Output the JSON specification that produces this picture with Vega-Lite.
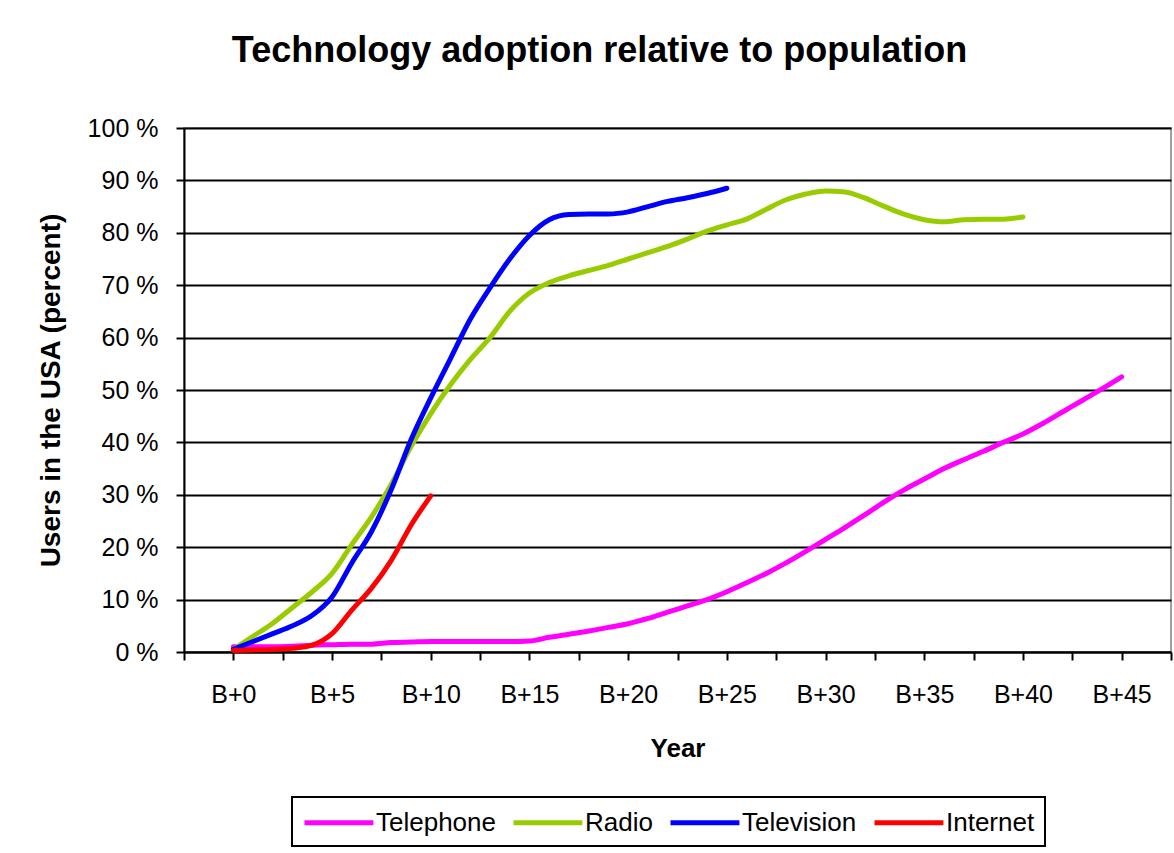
{
  "$schema": "https://vega.github.io/schema/vega-lite/v6.json",
  "width": 987,
  "height": 524,
  "autosize": {"type": "none"},
  "padding": {"left": 184, "top": 128, "right": 3, "bottom": 201},
  "background": "white",
  "title": {
    "text": "Technology adoption relative to population",
    "font": "Liberation Sans",
    "fontSize": 36,
    "fontWeight": "bold",
    "color": "black",
    "anchor": "middle",
    "frame": "group",
    "dx": -78,
    "offset": 46
  },
  "data": {
    "values": [
      {"tech": "Telephone", "year": 0, "pct": 1.0},
      {"tech": "Telephone", "year": 1, "pct": 1.0},
      {"tech": "Telephone", "year": 2, "pct": 1.0},
      {"tech": "Telephone", "year": 3, "pct": 1.1},
      {"tech": "Telephone", "year": 4, "pct": 1.3},
      {"tech": "Telephone", "year": 5, "pct": 1.4},
      {"tech": "Telephone", "year": 6, "pct": 1.5},
      {"tech": "Telephone", "year": 7, "pct": 1.5},
      {"tech": "Telephone", "year": 8, "pct": 1.8},
      {"tech": "Telephone", "year": 9, "pct": 1.9},
      {"tech": "Telephone", "year": 10, "pct": 2.0},
      {"tech": "Telephone", "year": 11, "pct": 2.0},
      {"tech": "Telephone", "year": 12, "pct": 2.0},
      {"tech": "Telephone", "year": 13, "pct": 2.0},
      {"tech": "Telephone", "year": 14, "pct": 2.0},
      {"tech": "Telephone", "year": 15, "pct": 2.1},
      {"tech": "Telephone", "year": 16, "pct": 2.8},
      {"tech": "Telephone", "year": 17, "pct": 3.4},
      {"tech": "Telephone", "year": 18, "pct": 4.0},
      {"tech": "Telephone", "year": 19, "pct": 4.7},
      {"tech": "Telephone", "year": 20, "pct": 5.4},
      {"tech": "Telephone", "year": 21, "pct": 6.4},
      {"tech": "Telephone", "year": 22, "pct": 7.6},
      {"tech": "Telephone", "year": 23, "pct": 8.8},
      {"tech": "Telephone", "year": 24, "pct": 10.0},
      {"tech": "Telephone", "year": 25, "pct": 11.5},
      {"tech": "Telephone", "year": 26, "pct": 13.2},
      {"tech": "Telephone", "year": 27, "pct": 15.0},
      {"tech": "Telephone", "year": 28, "pct": 17.0},
      {"tech": "Telephone", "year": 29, "pct": 19.2},
      {"tech": "Telephone", "year": 30, "pct": 21.5},
      {"tech": "Telephone", "year": 31, "pct": 23.8},
      {"tech": "Telephone", "year": 32, "pct": 26.2},
      {"tech": "Telephone", "year": 33, "pct": 28.7},
      {"tech": "Telephone", "year": 34, "pct": 31.0},
      {"tech": "Telephone", "year": 35, "pct": 33.0},
      {"tech": "Telephone", "year": 36, "pct": 35.0},
      {"tech": "Telephone", "year": 37, "pct": 36.7},
      {"tech": "Telephone", "year": 38, "pct": 38.3},
      {"tech": "Telephone", "year": 39, "pct": 40.0},
      {"tech": "Telephone", "year": 40, "pct": 41.6},
      {"tech": "Telephone", "year": 41, "pct": 43.6},
      {"tech": "Telephone", "year": 42, "pct": 45.8},
      {"tech": "Telephone", "year": 43, "pct": 48.0},
      {"tech": "Telephone", "year": 44, "pct": 50.2},
      {"tech": "Telephone", "year": 45, "pct": 52.5},
      {"tech": "Radio", "year": 0, "pct": 0.5},
      {"tech": "Radio", "year": 1, "pct": 3.0},
      {"tech": "Radio", "year": 2, "pct": 5.5},
      {"tech": "Radio", "year": 3, "pct": 8.5},
      {"tech": "Radio", "year": 4, "pct": 11.5},
      {"tech": "Radio", "year": 5, "pct": 15.0},
      {"tech": "Radio", "year": 6, "pct": 20.5},
      {"tech": "Radio", "year": 7, "pct": 25.8},
      {"tech": "Radio", "year": 8, "pct": 32.0},
      {"tech": "Radio", "year": 9, "pct": 39.2},
      {"tech": "Radio", "year": 10, "pct": 45.5},
      {"tech": "Radio", "year": 11, "pct": 51.0},
      {"tech": "Radio", "year": 12, "pct": 55.8},
      {"tech": "Radio", "year": 13, "pct": 60.0},
      {"tech": "Radio", "year": 14, "pct": 65.0},
      {"tech": "Radio", "year": 15, "pct": 68.5},
      {"tech": "Radio", "year": 16, "pct": 70.5},
      {"tech": "Radio", "year": 17, "pct": 71.8},
      {"tech": "Radio", "year": 18, "pct": 72.8},
      {"tech": "Radio", "year": 19, "pct": 73.8},
      {"tech": "Radio", "year": 20, "pct": 75.0},
      {"tech": "Radio", "year": 21, "pct": 76.2},
      {"tech": "Radio", "year": 22, "pct": 77.4},
      {"tech": "Radio", "year": 23, "pct": 78.8},
      {"tech": "Radio", "year": 24, "pct": 80.3},
      {"tech": "Radio", "year": 25, "pct": 81.5},
      {"tech": "Radio", "year": 26, "pct": 82.6},
      {"tech": "Radio", "year": 27, "pct": 84.5},
      {"tech": "Radio", "year": 28, "pct": 86.3},
      {"tech": "Radio", "year": 29, "pct": 87.4},
      {"tech": "Radio", "year": 30, "pct": 88.0},
      {"tech": "Radio", "year": 31, "pct": 87.8},
      {"tech": "Radio", "year": 32, "pct": 86.6},
      {"tech": "Radio", "year": 33, "pct": 85.0},
      {"tech": "Radio", "year": 34, "pct": 83.5},
      {"tech": "Radio", "year": 35, "pct": 82.5},
      {"tech": "Radio", "year": 36, "pct": 82.1},
      {"tech": "Radio", "year": 37, "pct": 82.5},
      {"tech": "Radio", "year": 38, "pct": 82.6},
      {"tech": "Radio", "year": 39, "pct": 82.6},
      {"tech": "Radio", "year": 40, "pct": 83.0},
      {"tech": "Television", "year": 0, "pct": 0.5},
      {"tech": "Television", "year": 1, "pct": 2.0},
      {"tech": "Television", "year": 2, "pct": 3.5},
      {"tech": "Television", "year": 3, "pct": 5.0},
      {"tech": "Television", "year": 4, "pct": 7.0},
      {"tech": "Television", "year": 5, "pct": 10.5},
      {"tech": "Television", "year": 6, "pct": 17.0},
      {"tech": "Television", "year": 7, "pct": 23.0},
      {"tech": "Television", "year": 8, "pct": 31.0},
      {"tech": "Television", "year": 9, "pct": 40.5},
      {"tech": "Television", "year": 10, "pct": 48.5},
      {"tech": "Television", "year": 11, "pct": 56.0},
      {"tech": "Television", "year": 12, "pct": 63.5},
      {"tech": "Television", "year": 13, "pct": 69.5},
      {"tech": "Television", "year": 14, "pct": 75.0},
      {"tech": "Television", "year": 15, "pct": 79.5},
      {"tech": "Television", "year": 16, "pct": 82.5},
      {"tech": "Television", "year": 17, "pct": 83.5},
      {"tech": "Television", "year": 18, "pct": 83.6},
      {"tech": "Television", "year": 19, "pct": 83.6},
      {"tech": "Television", "year": 20, "pct": 84.0},
      {"tech": "Television", "year": 21, "pct": 85.0},
      {"tech": "Television", "year": 22, "pct": 86.0},
      {"tech": "Television", "year": 23, "pct": 86.7},
      {"tech": "Television", "year": 24, "pct": 87.5},
      {"tech": "Television", "year": 25, "pct": 88.5},
      {"tech": "Internet", "year": 0, "pct": 0.3},
      {"tech": "Internet", "year": 1, "pct": 0.4},
      {"tech": "Internet", "year": 2, "pct": 0.5},
      {"tech": "Internet", "year": 3, "pct": 0.7},
      {"tech": "Internet", "year": 4, "pct": 1.3},
      {"tech": "Internet", "year": 5, "pct": 3.5},
      {"tech": "Internet", "year": 6, "pct": 8.0},
      {"tech": "Internet", "year": 7, "pct": 12.2},
      {"tech": "Internet", "year": 8, "pct": 17.5},
      {"tech": "Internet", "year": 9, "pct": 24.2},
      {"tech": "Internet", "year": 10, "pct": 29.8}
    ]
  },
  "mark": {"type": "line", "strokeWidth": 5, "interpolate": "monotone", "strokeCap": "round", "strokeJoin": "round"},
  "encoding": {
    "x": {
      "field": "year",
      "type": "quantitative",
      "scale": {"domain": [-2.5, 47.5], "nice": false, "zero": false},
      "axis": {
        "title": "Year",
        "values": [-2.5, 0, 2.5, 5, 7.5, 10, 12.5, 15, 17.5, 20, 22.5, 25, 27.5, 30, 32.5, 35, 37.5, 40, 42.5, 45, 47.5],
        "labelExpr": "datum.value % 5 === 0 ? 'B+' + datum.value : ''",
        "grid": false,
        "domainColor": "black",
        "domainWidth": 2,
        "tickColor": "black",
        "tickWidth": 2,
        "tickSize": 8,
        "labelPadding": 22,
        "labelFont": "Liberation Sans",
        "labelFontSize": 25,
        "labelColor": "black",
        "labelFlush": false,
        "labelOverlap": false,
        "titleFont": "Liberation Sans",
        "titleFontSize": 26,
        "titleFontWeight": "bold",
        "titleColor": "black",
        "titlePadding": 28
      }
    },
    "y": {
      "field": "pct",
      "type": "quantitative",
      "scale": {"domain": [0, 100], "nice": false},
      "axis": {
        "title": "Users in the USA (percent)",
        "values": [0, 10, 20, 30, 40, 50, 60, 70, 80, 90, 100],
        "labelExpr": "datum.value + ' %'",
        "grid": true,
        "gridColor": "black",
        "gridWidth": 2,
        "gridOpacity": 1,
        "domainColor": "black",
        "domainWidth": 2,
        "tickColor": "black",
        "tickWidth": 2,
        "tickSize": 8,
        "labelPadding": 18,
        "labelFont": "Liberation Sans",
        "labelFontSize": 25,
        "labelColor": "black",
        "labelFlush": false,
        "titleFont": "Liberation Sans",
        "titleFontSize": 28,
        "titleFontWeight": "bold",
        "titleColor": "black",
        "titlePadding": 22
      }
    },
    "color": {
      "field": "tech",
      "type": "nominal",
      "sort": ["Telephone", "Radio", "Television", "Internet"],
      "scale": {
        "domain": ["Telephone", "Radio", "Television", "Internet"],
        "range": ["#FF00FF", "#99CC00", "#0000FF", "#FF0000"]
      },
      "legend": {
        "title": null,
        "orient": "none",
        "legendX": 108,
        "legendY": 669,
        "direction": "horizontal",
        "columns": 4,
        "columnPadding": 7,
        "symbolType": "M-1,0H4.3",
        "symbolSize": 676,
        "symbolStrokeWidth": 5,
        "labelFont": "Liberation Sans",
        "labelFontSize": 26,
        "labelColor": "black",
        "labelOffset": 43,
        "labelLimit": 400,
        "padding": 10,
        "strokeColor": "black",
        "fillColor": "white"
      }
    },
    "order": {"field": "year", "type": "quantitative"}
  },
  "config": {
    "view": {"stroke": "#808080", "strokeWidth": 1.5},
    "legend": {"strokeWidth": 2}
  }
}
